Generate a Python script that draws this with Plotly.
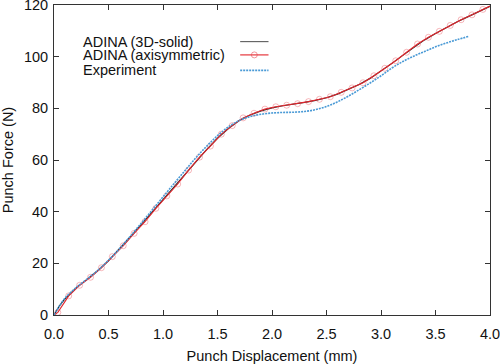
import plotly.graph_objects as go

# ---- data ----
solid_x = [0.0, 0.05, 0.1, 0.2, 0.3, 0.4, 0.5, 0.6, 0.7, 0.8, 0.9, 1.0, 1.1, 1.2, 1.3, 1.4,
           1.5, 1.6, 1.7, 1.8, 1.9, 2.0, 2.1, 2.2, 2.3, 2.4, 2.5, 2.6, 2.7, 2.8, 2.9, 3.0,
           3.1, 3.2, 3.3, 3.4, 3.5, 3.6, 3.7, 3.8, 3.9, 4.0]
solid_y = [0.0, 3.5, 6.2, 10.4, 13.7, 17.1, 21.0, 25.4, 30.2, 35.0, 39.9, 44.8, 49.6, 54.5,
           59.4, 64.0, 68.4, 72.2, 75.3, 77.4, 79.0, 80.2, 81.0, 81.6, 82.3, 83.1, 84.1,
           85.5, 87.2, 89.2, 91.6, 94.4, 97.4, 100.5, 103.6, 106.5, 109.0, 111.3, 113.5,
           115.5, 117.5, 119.5]

axi_x = [0.0, 0.035, 0.135, 0.235, 0.335, 0.435, 0.535, 0.635, 0.735, 0.835, 0.935, 1.035,
         1.135, 1.235, 1.335, 1.435, 1.535, 1.635, 1.735, 1.835, 1.935, 2.035, 2.135, 2.235,
         2.335, 2.435, 2.535, 2.635, 2.735, 2.835, 2.935, 3.035, 3.135, 3.235, 3.335, 3.435,
         3.535, 3.635, 3.735, 3.835, 3.935, 4.0]
axi_y = [0.0, 1.0, 7.4, 11.5, 14.6, 18.3, 22.6, 26.8, 31.6, 36.1, 41.3, 46.1, 50.7, 56.1,
         61.1, 65.4, 70.0, 73.3, 76.3, 78.1, 79.7, 80.6, 81.2, 81.8, 82.6, 83.5, 84.5, 86.2,
         87.9, 89.9, 92.6, 95.5, 98.4, 101.7, 104.9, 107.5, 109.8, 112.1, 114.3, 116.2,
         118.3, 119.6]
axi_marker_size = [0] + [6] * 40 + [0]

exp_x = [0.0, 0.05, 0.1, 0.2, 0.3, 0.4, 0.5, 0.6, 0.7, 0.8, 0.9, 1.0, 1.1, 1.2, 1.3, 1.4,
         1.5, 1.6, 1.7, 1.8, 1.9, 2.0, 2.1, 2.2, 2.3, 2.4, 2.5, 2.6, 2.7, 2.8, 2.9, 3.0,
         3.1, 3.2, 3.3, 3.4, 3.5, 3.6, 3.7, 3.8]
exp_y = [0.0, 3.5, 6.5, 10.5, 13.8, 17.2, 21.2, 25.6, 30.5, 35.5, 40.6, 45.7, 50.8, 55.8,
         60.8, 65.3, 69.4, 72.8, 75.3, 76.8, 77.7, 78.2, 78.4, 78.5, 78.8, 79.5, 80.7, 82.5,
         84.7, 87.2, 89.8, 92.6, 95.6, 98.1, 100.2, 102.0, 103.8, 105.3, 106.6, 107.8]

x_ticks = [0.0, 0.5, 1.0, 1.5, 2.0, 2.5, 3.0, 3.5, 4.0]
x_tick_labels = ["0.0", "0.5", "1.0", "1.5", "2.0", "2.5", "3.0", "3.5", "4.0"]
y_ticks = [0, 20, 40, 60, 80, 100, 120]
legend_names = ["ADINA (3D-solid)", "ADINA (axisymmetric)", "Experiment"]

BLACK = "#2a2a2a"
RED = "#e3242b"
BLUE = "#4a9ad6"
MARK = "rgba(232,70,80,0.55)"
FONT = "Liberation Sans, Arial, sans-serif"

fig = go.Figure()
fig.add_trace(go.Scatter(x=solid_x, y=solid_y, mode="lines", name=legend_names[0],
                         line=dict(color=BLACK, width=1.2)))
fig.add_trace(go.Scatter(x=axi_x, y=axi_y, mode="lines+markers", name=legend_names[1],
                         line=dict(color=RED, width=1.1),
                         marker=dict(symbol="circle-open", size=axi_marker_size,
                                     color=MARK, line=dict(width=1))))
fig.add_trace(go.Scatter(x=exp_x, y=exp_y, mode="lines", name=legend_names[2],
                         line=dict(color=BLUE, width=1.6, dash="2px,1px", shape="spline")))

# custom legend (text left, sample right) in paper coordinates
rows_y = [0.882, 0.839, 0.789]
ann = []
shapes = []
for name, yy in zip(legend_names, rows_y):
    ann.append(dict(x=0.062, y=yy, xref="paper", yref="paper", text=name, showarrow=False,
                    xanchor="left", yanchor="middle", font=dict(family=FONT, size=14.5, color="#111")))
sample_cols = [("#666666", "solid", 1.2), (RED, "solid", 1.1), (BLUE, "2px,1px", 1.6)]
for (c, d, w), yy in zip(sample_cols, rows_y):
    shapes.append(dict(type="line", xref="paper", yref="paper", x0=0.427, x1=0.492,
                       y0=yy, y1=yy, line=dict(color=c, width=w, dash=d)))
shapes.append(dict(type="circle", xref="paper", yref="paper", xsizemode="pixel",
                   ysizemode="pixel", xanchor=0.4595, yanchor=rows_y[1],
                   x0=-3, x1=3, y0=-3, y1=3, line=dict(color=MARK, width=1)))

axis_common = dict(showgrid=False, zeroline=False, showline=True, linecolor="#333",
                   linewidth=1, mirror="ticks", ticks="inside", ticklen=5, tickcolor="#333",
                   automargin=False, ticklabeloverflow="allow",
                   tickfont=dict(family=FONT, size=14.5, color="#111"))
fig.update_layout(
    width=500, height=364,
    margin=dict(l=54, r=10, t=5, b=49),
    paper_bgcolor="white", plot_bgcolor="white",
    showlegend=False,
    annotations=ann, shapes=shapes,
    xaxis=dict(range=[0, 4.0], tickvals=x_ticks, ticktext=x_tick_labels,
               title=dict(text="Punch Displacement (mm)", font=dict(family=FONT, size=14.5, color="#111")),
               ticklabelstandoff=6, **axis_common),
    yaxis=dict(range=[0, 120], tickvals=y_ticks,
               title=dict(text="Punch Force (N)", font=dict(family=FONT, size=14.5, color="#111")),
               ticklabelstandoff=2, **axis_common),
)
fig.write_html("out.html", config={"displayModeBar": False},
               post_script="document.body.style.margin='0';document.body.style.padding='0';")
